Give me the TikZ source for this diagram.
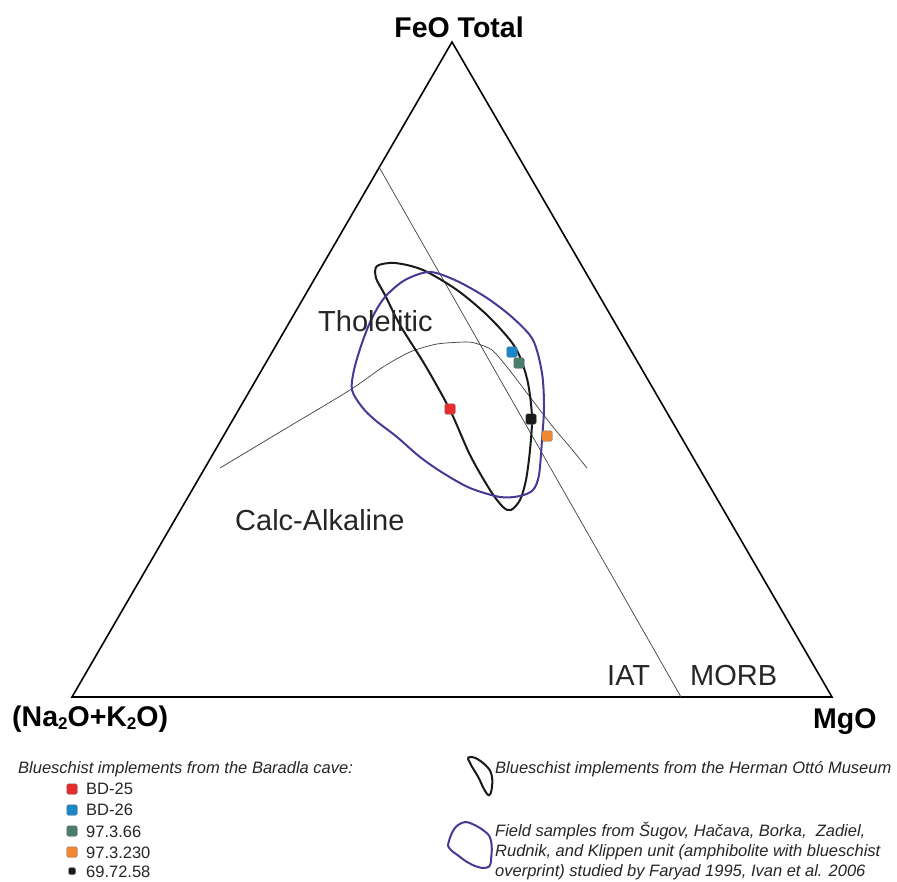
\documentclass[tikz,border=0pt]{standalone}
\usepackage{fontspec}
\setmainfont{Liberation Sans}
\definecolor{ptred}{RGB}{230,45,45}
\definecolor{ptblue}{RGB}{25,135,200}
\definecolor{ptgreen}{RGB}{75,125,110}
\definecolor{ptorange}{RGB}{240,135,50}
\definecolor{fieldpurple}{RGB}{75,55,150}
\begin{document}
\begin{tikzpicture}[x=1pt,y=-1pt,
  edge/.style={line width=1.6pt, line join=miter},
  fine/.style={line width=0.7pt, draw=black!75},
  museum/.style={line width=2pt, draw=black!90},
  field/.style={line width=2pt, draw=fieldpurple},
  biglabel/.style={font=\fontsize{29}{29}\selectfont, inner sep=0, text=black!85},
  title/.style={font=\fontsize{28.5}{29}\selectfont\bfseries, inner sep=0},
  legtext/.style={font=\fontsize{16.5}{20}\selectfont, inner sep=0, anchor=base west, text=black!85},
  sample/.style={draw=black!55, line width=0.4pt, rounded corners=2pt, minimum size=10.5pt, inner sep=0},
]
\path[fill=white, use as bounding box] (0,0) rectangle (897,881);

% triangle
\coordinate (F) at (452,42);
\coordinate (N) at (72,697);
\coordinate (M) at (832,697);
\draw[edge] (N) -- (F) -- (M) -- cycle;

% IAT / MORB divide
\coordinate (i1) at (379,167);
\coordinate (i2) at (681,697);
\draw[fine] (i1) -- (i2);

% tholeiitic / calc-alkaline boundary
\draw[fine] plot[smooth, tension=0.45] coordinates {(220,468) (285,429) (350,390) (383,367) (410,352) (437,344) (467,342) (478,344) (492,350) (507,367) (530,397) (553,427) (570,447) (587,468)};

% Herman Otto Museum field
\draw[museum] plot[smooth cycle] coordinates {(377,266) (395,263) (423,270) (457,290) (487,315) (510,340) (520,357) (528,383) (532,417) (530,450) (526,480) (520,500) (511,510) (503,507) (490,490) (470,455) (450,410) (425,365) (400,325) (385,295) (376,278)};

% field samples
\draw[field] plot[smooth cycle] coordinates {(430,272) (457,281) (487,298) (513,318) (533,340) (542,373) (544,407) (542,440) (539,475) (533,490) (520,496) (500,497) (470,488) (443,473) (420,457) (397,437) (375,420) (362,407) (352,390) (354,370) (362,343) (372,318) (385,297) (405,280)};

% samples
\node[sample, fill=ptred] (s1) at (450,409) {};
\node[sample, fill=ptblue] (s2) at (512,352) {};
\node[sample, fill=ptgreen] (s3) at (519,363) {};
\node[sample, fill=black!90] (s4) at (531,419) {};
\node[sample, fill=ptorange] (s5) at (547,436) {};

% labels
\node[title, anchor=base] (tF) at (459,37) {FeO Total};
\node[title, anchor=base west] (tN) at (12,726) {(Na\raisebox{-3pt}{\fontsize{17}{17}\selectfont 2}O+K\raisebox{-3pt}{\fontsize{17}{17}\selectfont 2}O)};
\node[title, anchor=base west] (tM) at (813,728) {MgO};
\node[biglabel, anchor=base west] (tTh) at (318,331) {Tholelitic};
\node[biglabel, anchor=base west] (tCA) at (235,530) {Calc-Alkaline};
\node[biglabel, anchor=base west] (tIAT) at (607,685) {IAT};
\node[biglabel, anchor=base west] (tMORB) at (690,685) {MORB};

% legend left
\node[legtext] (lh) at (18,773) {\itshape Blueschist implements from the Baradla cave:};
\node[sample, fill=ptred] (k1) at (72,789) {};
\node[sample, fill=ptblue] (k2) at (72,810) {};
\node[sample, fill=ptgreen] (k3) at (72,831) {};
\node[sample, fill=ptorange] (k4) at (72,852) {};
\node[sample, fill=black!90, minimum size=7pt, rounded corners=1.5pt] (k5) at (72,871) {};
\node[legtext] (l1) at (86,794) {BD-25};
\node[legtext] (l2) at (86,815) {BD-26};
\node[legtext] (l3) at (86,837) {97.3.66};
\node[legtext] (l4) at (86,858) {97.3.230};
\node[legtext] (l5) at (86,877) {69.72.58};

% legend right: icons
\begin{scope}[shift={(409.9,716.2)}, scale=0.155]
\draw[museum] plot[smooth cycle] coordinates {(377,266) (395,263) (423,270) (457,290) (487,315) (510,340) (520,357) (528,383) (532,417) (530,450) (526,480) (520,500) (511,510) (503,507) (490,490) (470,455) (450,410) (425,365) (400,325) (385,295) (376,278)};
\end{scope}
\begin{scope}[shift={(368.3,766.5)}, xscale=0.227, yscale=0.204]
\draw[field] plot[smooth cycle] coordinates {(430,272) (457,281) (487,298) (513,318) (533,340) (542,373) (544,407) (542,440) (539,475) (533,490) (520,496) (500,497) (470,488) (443,473) (420,457) (397,437) (375,420) (362,407) (352,390) (354,370) (362,343) (372,318) (385,297) (405,280)};
\end{scope}
\node[legtext] (r1) at (495,773) {\itshape Blueschist implements from the Herman Ottó Museum};
\node[legtext] (r2) at (495,836) {\itshape Field samples from Šugov, Hačava, Borka,\ \ Zadiel,};
\node[legtext] (r3) at (495,856) {\itshape Rudnik, and Klippen unit (amphibolite with blueschist};
\node[legtext] (r4) at (495,876) {\itshape overprint) studied by Faryad 1995, Ivan et al. 2006};
\end{tikzpicture}
\end{document}
